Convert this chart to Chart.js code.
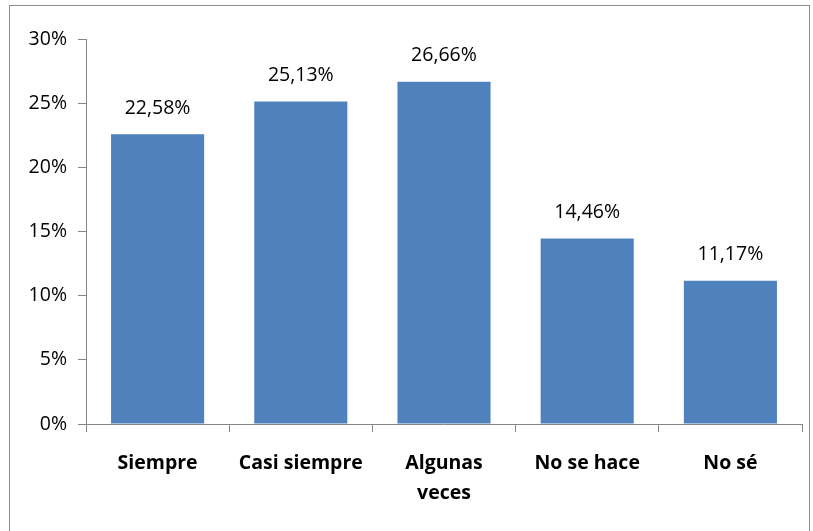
<!DOCTYPE html>
<html>
<head>
<meta charset="utf-8">
<script src="https://cdn.jsdelivr.net/npm/chart.js@4"></script>
<style>
  html, body { margin: 0; padding: 0; background: #fff; }
  #wrap { width: 813px; height: 531px; }
</style>
</head>
<body>
<div id="wrap"><canvas id="myChart" width="813" height="531"></canvas></div>
<script>
"use strict";

// datos del gráfico
var categorias = [["Siempre"], ["Casi siempre"], ["Algunas", "veces"], ["No se hace"], ["No sé"]];
var porcentajes = [22.58, 25.13, 26.66, 14.46, 11.17];
var ticksY = [0, 5, 10, 15, 20, 25, 30];

var FUENTE = "'Open Sans', 'Noto Sans', sans-serif";

// marco del área del gráfico
var marcoPlugin = {
  id: "marco",
  beforeDraw: function (chart) {
    var ctx = chart.ctx;
    ctx.save();
    ctx.fillStyle = "#fff";
    ctx.fillRect(0, 0, chart.width, chart.height);
    ctx.strokeStyle = "#8c8c8c";
    ctx.lineWidth = 1;
    ctx.strokeRect(9.5, 5.5, 800, 560);
    ctx.restore();
  }
};

// etiquetas de valor encima de las barras
var etiquetasPlugin = {
  id: "etiquetas",
  afterDatasetsDraw: function (chart) {
    var ctx = chart.ctx;
    var meta = chart.getDatasetMeta(0);
    ctx.save();
    ctx.font = "19.5px " + FUENTE;
    ctx.fillStyle = "#000";
    ctx.textAlign = "center";
    ctx.textBaseline = "middle";
    meta.data.forEach(function (bar, i) {
      var txt = porcentajes[i].toFixed(2).replace(".", ",") + "%";
      ctx.fillText(txt, bar.x, bar.y - 26);
    });
    ctx.restore();
  }
};

var ctx = document.getElementById("myChart").getContext("2d");
new Chart(ctx, {
  type: "bar",
  data: {
    labels: categorias,
    datasets: [{
      data: porcentajes,
      backgroundColor: "#4f81bd",
      borderWidth: 0,
      categoryPercentage: 1.0,
      barPercentage: 0.65
    }]
  },
  options: {
    responsive: false,
    animation: false,
    layout: { padding: { left: 0, top: 39, right: 11, bottom: 0 } },
    plugins: {
      legend: { display: false },
      tooltip: { enabled: false }
    },
    scales: {
      y: {
        min: 0,
        max: 30,
        afterFit: function (scale) { scale.width = 86; },
        afterBuildTicks: function (scale) {
          scale.ticks = ticksY.map(function (v) { return { value: v }; });
        },
        ticks: {
          padding: 11,
          color: "#000",
          font: { family: FUENTE, size: 19.5 },
          callback: function (v) { return v + "%"; }
        },
        grid: { drawOnChartArea: false, drawTicks: true, tickLength: 8, color: "#868686" },
        border: { display: true, color: "#868686" }
      },
      x: {
        afterFit: function (scale) { scale.height = 107; },
        ticks: {
          padding: 16,
          color: "#000",
          maxRotation: 0,
          font: { family: FUENTE, size: 19.5, weight: "bold", lineHeight: 1.55 }
        },
        grid: { offset: true, drawOnChartArea: false, drawTicks: true, tickLength: 8, color: "#868686" },
        border: { display: true, color: "#868686" }
      }
    }
  },
  plugins: [marcoPlugin, etiquetasPlugin]
});
</script>
</body>
</html>
